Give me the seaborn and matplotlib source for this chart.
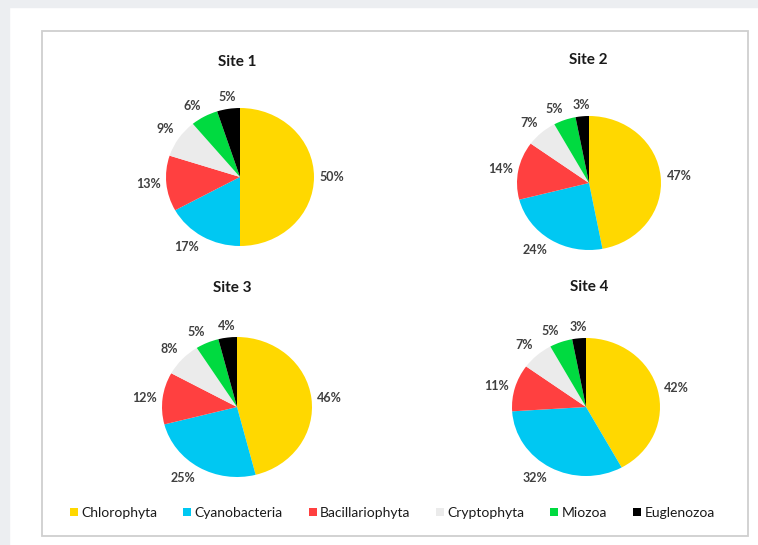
import numpy as np
import matplotlib
matplotlib.use("Agg")
import matplotlib.pyplot as plt
from matplotlib.patches import Rectangle
import seaborn as sns

# ---- data ----
categories = ["Chlorophyta", "Cyanobacteria", "Bacillariophyta", "Cryptophyta", "Miozoa", "Euglenozoa"]
sites = ["Site 1", "Site 2", "Site 3", "Site 4"]
site1 = [50, 17, 13, 9, 6, 5]
site2 = [47, 24, 14, 7, 5, 3]
site3 = [46, 25, 12, 8, 5, 4]
site4 = [42, 32, 11, 7, 5, 3]
site_values = [site1, site2, site3, site4]
colors = ["#FFD800", "#00C8F2", "#FF4040", "#EBEBEB", "#00DA40", "#000000"]

sns.set_theme(style="white")
plt.rcParams["font.family"] = ["Lato", "DejaVu Sans"]

W, H = 758, 545
fig = plt.figure(figsize=(W / 100, H / 100), dpi=100, facecolor="white")

def fx(x):
    return x / W

def fy(y):
    return 1 - y / H

# outer page background bands
bg = "#ECEEF1"
fig.patches.append(Rectangle((0, fy(7)), 1, 7 / H, transform=fig.transFigure, color=bg, zorder=0))
fig.patches.append(Rectangle((0, 0), fx(9), 1, transform=fig.transFigure, color=bg, zorder=0))
# chart border
fig.patches.append(Rectangle((fx(42), fy(536)), fx(748 - 42), (536 - 31) / H,
                             transform=fig.transFigure, fill=False, edgecolor="#CFCFCF",
                             linewidth=1.3, zorder=1))

layout = [  # cx, cy, rx, ry (pixels)
    (240, 177, 74, 69),
    (589, 183, 72, 67),
    (237, 407, 75, 70),
    (586, 407, 74, 69),
]
title_pos = [(237, 62), (588, 60), (232, 288), (589, 287)]

wedges_all = None
for (cx, cy, rx, ry), vals, name, (tx, ty) in zip(layout, site_values, sites, title_pos):
    ax = fig.add_axes([fx(cx - rx), fy(cy + ry), 2 * rx / W, 2 * ry / H])
    wedges, _ = ax.pie(vals, colors=colors, startangle=90, counterclock=False,
                       radius=1, wedgeprops=dict(linewidth=0))
    ax.set_aspect("auto")
    ax.set_xlim(-1, 1)
    ax.set_ylim(-1, 1)
    ax.axis("off")
    if wedges_all is None:
        wedges_all = wedges
    for w, v in zip(wedges, vals):
        ang = np.deg2rad((w.theta1 + w.theta2) / 2)
        dx, dy = np.cos(ang), np.sin(ang)
        ha = "left" if dx > 0.3 else ("right" if dx < -0.3 else "center")
        va = "bottom" if dy > 0.3 else ("top" if dy < -0.3 else "center")
        d = 1.08
        ax.text(d * dx, d * dy, f"{v}%", ha=ha, va=va, fontsize=9,
                fontweight="bold", color="#404040", clip_on=False)
    fig.text(fx(tx), fy(ty), name, ha="center", va="center", fontsize=11,
             fontweight="bold", color="#1A1A1A")

fig.legend(wedges_all, categories, loc="center left", bbox_to_anchor=(fx(70), fy(513)),
           ncol=6, frameon=False, fontsize=10, handlelength=0.58, handleheight=0.58,
           handletextpad=0.25, columnspacing=1.85, borderaxespad=0, borderpad=0,
           labelcolor="#1A1A1A")

fig.savefig("out.png", dpi=100, facecolor="white")
